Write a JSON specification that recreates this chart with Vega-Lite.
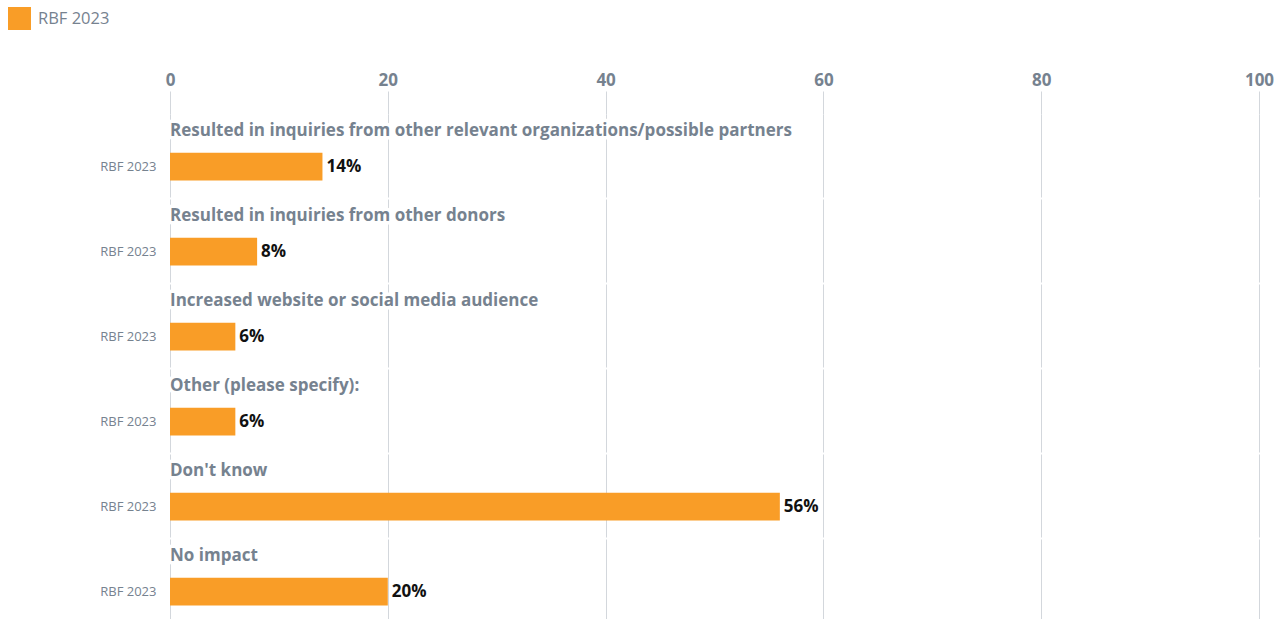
{
  "$schema": "https://vega.github.io/schema/vega-lite/v6.json",
  "padding": {"left": 8, "top": 7, "right": 0, "bottom": 0},
  "data": {"values": [
    {"question": "Resulted in inquiries from other relevant organizations/possible partners", "series": "RBF 2023", "value": 14, "label": "14%"},
    {"question": "Resulted in inquiries from other donors", "series": "RBF 2023", "value": 8, "label": "8%"},
    {"question": "Increased website or social media audience", "series": "RBF 2023", "value": 6, "label": "6%"},
    {"question": "Other (please specify):", "series": "RBF 2023", "value": 6, "label": "6%"},
    {"question": "Don't know", "series": "RBF 2023", "value": 56, "label": "56%"},
    {"question": "No impact", "series": "RBF 2023", "value": 20, "label": "20%"}
  ]},
  "facet": {
    "row": {
      "field": "question", "type": "nominal",
      "sort": ["Resulted in inquiries from other relevant organizations/possible partners", "Resulted in inquiries from other donors", "Increased website or social media audience", "Other (please specify):", "Don't know", "No impact"],
      "header": {"labels": false, "title": null}
    }
  },
  "spacing": 2,
  "spec": {
    "width": 1089,
    "height": 83,
    "encoding": {
      "y": {
        "field": "series", "type": "nominal",
        "scale": {"paddingInner": 0, "paddingOuter": 1.1, "align": 0.7},
        "axis": {"title": null, "ticks": false, "domain": false, "labelFontSize": 13, "labelColor": "#76828f", "labelPadding": 14, "labelFont": "Open Sans"}
      }
    },
    "layer": [
      {
        "mark": {"type": "bar"},
        "encoding": {
          "x": {
            "field": "value", "type": "quantitative",
            "scale": {"domain": [0, 100], "nice": false},
            "axis": {"orient": "top", "title": null, "values": [0, 20, 40, 60, 80, 100], "grid": true, "gridColor": "#d3d7dc", "tickColor": "#d3d7dc", "tickSize": 23, "domain": false, "labelFont": "Open Sans", "labelFontWeight": "bold", "labelFontSize": 17, "labelColor": "#76828f", "labelPadding": 2, "labelFlush": false}
          },
          "color": {
            "field": "series", "type": "nominal",
            "scale": {"range": ["#f99d27"]},
            "legend": {"orient": "none", "legendX": -162, "legendY": -107, "title": null, "symbolType": "square", "symbolSize": 529, "symbolStrokeWidth": 0, "labelFontSize": 16.5, "labelColor": "#76828f", "labelFont": "Open Sans", "labelOffset": 7, "padding": 0}
          }
        }
      },
      {
        "mark": {"type": "text", "align": "left", "baseline": "middle", "yOffset": -36, "fontSize": 17, "fontWeight": "bold", "font": "Open Sans", "stroke": "white", "strokeWidth": 7, "strokeJoin": "round", "fill": "white"},
        "encoding": {"x": {"datum": 0, "type": "quantitative"}, "text": {"field": "question"}}
      },
      {
        "mark": {"type": "text", "align": "left", "baseline": "middle", "yOffset": -36, "fontSize": 17, "fontWeight": "bold", "font": "Open Sans", "color": "#76828f"},
        "encoding": {"x": {"datum": 0, "type": "quantitative"}, "text": {"field": "question"}}
      },
      {
        "mark": {"type": "text", "align": "left", "baseline": "middle", "dx": 4, "fontSize": 17, "fontWeight": "bold", "font": "Open Sans", "color": "#111111"},
        "encoding": {"x": {"field": "value", "type": "quantitative"}, "text": {"field": "label"}}
      }
    ]
  },
  "config": {"view": {"stroke": null}, "font": "Open Sans"}
}
